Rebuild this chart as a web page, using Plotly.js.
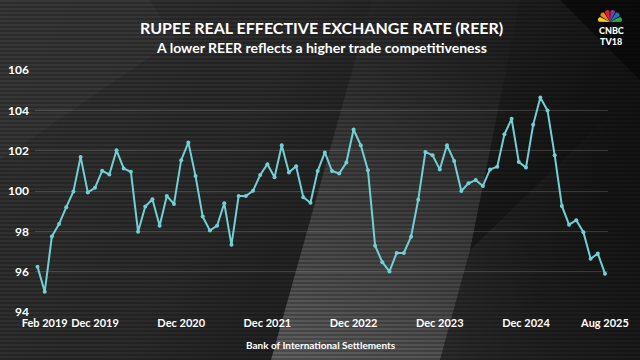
<!DOCTYPE html>
<html><head><meta charset="utf-8">
<script src="https://cdn.plot.ly/plotly-3.0.1.min.js"></script>
<style>
html,body{margin:0;padding:0;width:640px;height:360px;overflow:hidden;background:#222;}
#bg{position:absolute;left:0;top:0;width:640px;height:360px;}
#chart{position:absolute;left:0;top:0;width:640px;height:360px;}
</style></head>
<body>
<svg id="bg" width="640" height="360" xmlns="http://www.w3.org/2000/svg">
  <defs>
    <linearGradient id="base" x1="0" y1="0" x2="1" y2="0.3">
      <stop offset="0" stop-color="#343434"/>
      <stop offset="0.45" stop-color="#2b2b2b"/>
      <stop offset="0.8" stop-color="#1c1c1c"/>
      <stop offset="1" stop-color="#121212"/>
    </linearGradient>
    <linearGradient id="band" x1="0" y1="1" x2="0.2" y2="0">
      <stop offset="0" stop-color="#8a8a8a" stop-opacity="0.6"/>
      <stop offset="0.6" stop-color="#6a6a6a" stop-opacity="0.35"/>
      <stop offset="1" stop-color="#555" stop-opacity="0.05"/>
    </linearGradient>
    <linearGradient id="band2" x1="0" y1="1" x2="1" y2="0">
      <stop offset="0" stop-color="#555" stop-opacity="0.35"/>
      <stop offset="1" stop-color="#333" stop-opacity="0.0"/>
    </linearGradient>
    <pattern id="stripes" width="4" height="4" patternUnits="userSpaceOnUse">
      <rect x="0" y="2" width="4" height="2" fill="#000" fill-opacity="0.22"/>
    </pattern>
  </defs>
  <rect width="640" height="360" fill="url(#base)"/>
  <polygon points="0,0 150,0 175,40 0,160" fill="#3c3c3c" fill-opacity="0.5"/>
  <polygon points="271,360 372,0 520,0 470,250 440,360" fill="url(#band)"/>
  <polygon points="440,360 470,250 640,85 640,360" fill="url(#band2)"/>
  <polygon points="560,0 640,0 640,80" fill="#050505" fill-opacity="0.6"/>
  <rect width="640" height="360" fill="url(#stripes)"/>
</svg>
<div id="chart"></div>
<script>
const months = ["2019-01","2019-02","2019-03","2019-04","2019-05","2019-06","2019-07","2019-08","2019-09","2019-10","2019-11","2019-12",
"2020-01","2020-02","2020-03","2020-04","2020-05","2020-06","2020-07","2020-08","2020-09","2020-10","2020-11","2020-12",
"2021-01","2021-02","2021-03","2021-04","2021-05","2021-06","2021-07","2021-08","2021-09","2021-10","2021-11","2021-12",
"2022-01","2022-02","2022-03","2022-04","2022-05","2022-06","2022-07","2022-08","2022-09","2022-10","2022-11","2022-12",
"2023-01","2023-02","2023-03","2023-04","2023-05","2023-06","2023-07","2023-08","2023-09","2023-10","2023-11","2023-12",
"2024-01","2024-02","2024-03","2024-04","2024-05","2024-06","2024-07","2024-08","2024-09","2024-10","2024-11","2024-12",
"2025-01","2025-02","2025-03","2025-04","2025-05","2025-06","2025-07","2025-08"];

const reer = [96.25, 95.0, 97.75, 98.36, 99.2, 99.98, 101.69, 99.93, 100.16, 101.0,
100.82, 102.02, 101.12, 100.95, 97.98, 99.23, 99.59, 98.28, 99.75, 99.36,
101.53, 102.41, 100.74, 98.73, 98.04, 98.28, 99.39, 97.33, 99.75, 99.75,
100.01, 100.79, 101.33, 100.68, 102.27, 100.92, 101.23, 99.69, 99.42, 100.99,
101.91, 100.99, 100.87, 101.41, 103.05, 102.27, 101.03, 97.29, 96.47, 96.01,
96.93, 96.93, 97.73, 99.56, 101.94, 101.77, 101.07, 102.27, 101.49, 100.0,
100.38, 100.54, 100.25, 101.07, 101.2, 102.81, 103.58, 101.44, 101.16, 103.28,
104.64, 103.99, 101.77, 99.26, 98.33, 98.55, 97.96, 96.64, 96.9, 95.9];

const tickPositions = ["2019-02","2019-09","2020-09","2021-09","2022-09","2023-09","2024-09","2025-08"];
const tickLabels = ["Feb 2019","Dec 2019","Dec 2020","Dec 2021","Dec 2022","Dec 2023","Dec 2024","Aug 2025"];
const yTicks = [94, 96, 98, 100, 102, 104, 106];

const titleText = "RUPEE REAL EFFECTIVE EXCHANGE RATE (REER)";
const subtitleText = "A lower REER reflects a higher trade competitiveness";
const sourceText = "Bank of International Settlements";

const W = 640, H = 360, ML = 35, MR = 32, MT = 70, MB = 48;
const PW = W - ML - MR, PH = H - MT - MB;
function px(x){ return (x - ML) / PW; }
function py(y){ return (H - MB - y) / PH; }

const F = "Lato, 'Open Sans', sans-serif";
const lineColor = "#72d0d4";

// CNBC peacock logo petals (decoration)
const cx = 610, cy = 22;
const petalColors = ["#f7d117","#f58220","#e0202f","#7c3f98","#1b75bb","#2fa84f"];
const shapes = [];
petalColors.forEach((c, i) => {
  const ang = Math.PI * (0.92 - i * 0.168);
  const r = 14, w = 0.22;
  const tx = cx + r * Math.cos(ang), ty = cy - r * Math.sin(ang);
  const lx = cx + r * 0.8 * Math.cos(ang + w), ly = cy - r * 0.8 * Math.sin(ang + w);
  const rx = cx + r * 0.8 * Math.cos(ang - w), ry = cy - r * 0.8 * Math.sin(ang - w);
  shapes.push({type:"path", xref:"paper", yref:"paper", layer:"above", line:{width:0}, fillcolor:c,
    path:`M ${px(cx)} ${py(cy)} L ${px(lx)} ${py(ly)} Q ${px(tx)} ${py(ty)} ${px(rx)} ${py(ry)} Z`});
});

const trace = {
  x: months, y: reer, type: "scatter", mode: "lines+markers",
  line: {color: lineColor, width: 2},
  marker: {color: lineColor, size: 4},
  hoverinfo: "skip"
};

const layout = {
  width: W, height: H,
  margin: {l: ML, r: MR, t: MT, b: MB, pad: 0},
  paper_bgcolor: "rgba(0,0,0,0)", plot_bgcolor: "rgba(0,0,0,0)",
  showlegend: false,
  font: {family: F, color: "#ffffff"},
  xaxis: {
    type: "category", range: [-0.35, 79.42],
    tickmode: "array", tickvals: tickPositions, ticktext: tickLabels,
    showgrid: false, zeroline: false, showline: false, ticks: "",
    tickfont: {family: F, size: 11, color: "#ffffff", weight: 700},
    tickangle: 0, ticklabelstandoff: 3
  },
  yaxis: {
    range: [94, 106], tickmode: "array", tickvals: yTicks,
    showgrid: true, gridcolor: "rgba(255,255,255,0.16)", gridwidth: 1,
    zeroline: false, showline: false, ticks: "",
    tickfont: {family: F, size: 12, color: "#ffffff", weight: 700},
    ticklabelstandoff: 5
  },
  shapes: shapes,
  annotations: [
    {text: titleText, xref: "paper", yref: "paper", x: px(321), y: py(27), xanchor: "center", yanchor: "middle",
     showarrow: false, font: {family: F, size: 16, color: "#ffffff", weight: 700}},
    {text: subtitleText, xref: "paper", yref: "paper", x: px(321), y: py(47), xanchor: "center", yanchor: "middle",
     showarrow: false, font: {family: F, size: 14, color: "#ffffff", weight: 700}},
    {text: sourceText, xref: "paper", yref: "paper", x: px(321), y: py(345), xanchor: "center", yanchor: "middle",
     showarrow: false, font: {family: F, size: 10, color: "#ffffff", weight: 700}},
    {text: "CNBC", xref: "paper", yref: "paper", x: px(611), y: py(31), xanchor: "center", yanchor: "middle",
     showarrow: false, font: {family: F, size: 9, color: "#ffffff", weight: 900}},
    {text: "TV18", xref: "paper", yref: "paper", x: px(611), y: py(42), xanchor: "center", yanchor: "middle",
     showarrow: false, font: {family: F, size: 9, color: "#ffffff", weight: 900}}
  ]
};

Plotly.newPlot("chart", [trace], layout, {staticPlot: true, displayModeBar: false});
</script>
</body></html>
